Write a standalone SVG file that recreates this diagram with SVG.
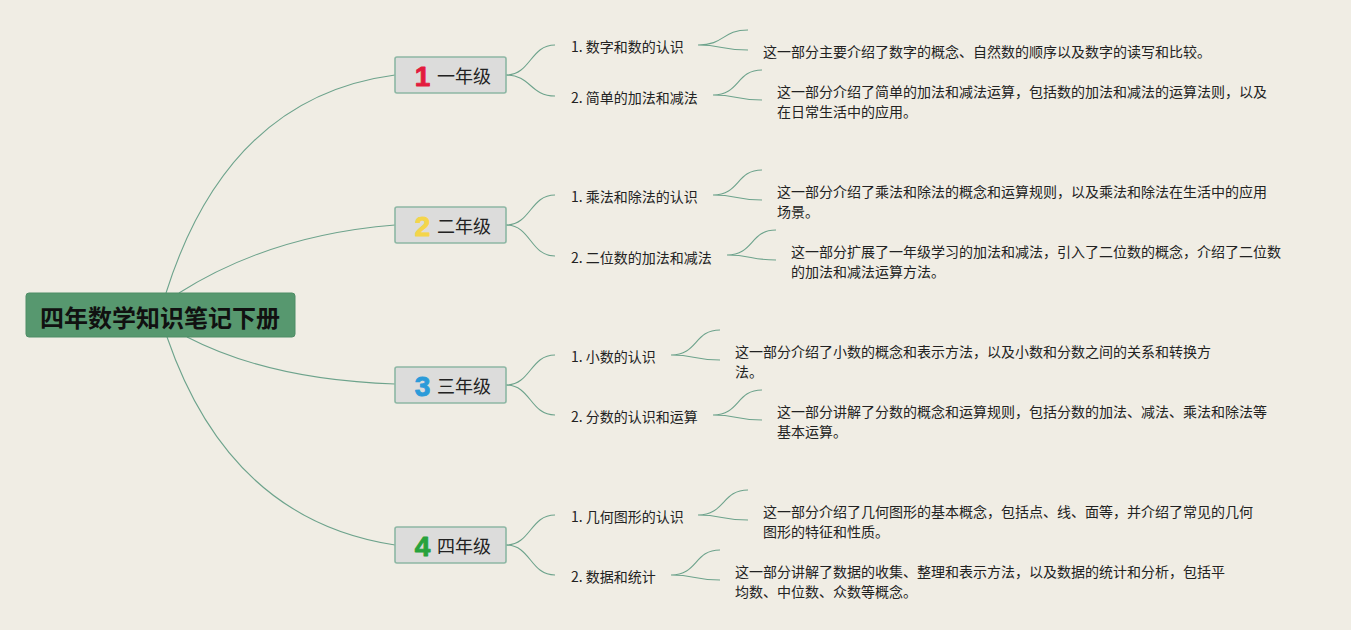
<svg xmlns="http://www.w3.org/2000/svg" width="1351" height="630" viewBox="0 0 1351 630">
<style>
.bg{fill:#f0ede4}
.ln{fill:none;stroke:#6da38c;stroke-width:1.1}
.root{fill:#57986f;stroke:#4f8d66;stroke-width:1}
.rt{font-family:"Noto Sans CJK SC","Noto Sans",sans-serif;font-size:24px;font-weight:bold;fill:#111}
.gb{fill:#dcdcdb;stroke:#8db7a4;stroke-width:1.6}
.num{font-family:"Liberation Sans",Arial,sans-serif;font-size:28px;font-weight:bold;stroke-width:0.9;stroke-linejoin:round}
.gt{font-family:"Noto Sans CJK SC","Noto Sans",sans-serif;font-size:18px;fill:#222}
.st{font-family:"Noto Sans CJK SC","Noto Sans",sans-serif;font-size:14px;fill:#222}
.dt{font-family:"Noto Sans CJK SC","Noto Sans",sans-serif;font-size:14px;fill:#222}
</style>
<rect class="bg" x="0" y="0" width="1351" height="630"/>
<g id="connectors">
<path class="ln" d="M166,293 Q228,97 395,75"/>
<path class="ln" d="M179,293 Q270,235 395,225"/>
<path class="ln" d="M187,337 Q270,380 395,384"/>
<path class="ln" d="M167,337 Q230,520 395,545"/>
<path class="ln" d="M506,75 C531,75 530,45 555,45"/>
<path class="ln" d="M506,75 C531,75 530,96 555,96"/>
<path class="ln" d="M506,225 C531,225 530,195 555,195"/>
<path class="ln" d="M506,225 C531,225 530,256 555,256"/>
<path class="ln" d="M506,385 C531,385 530,355 555,355"/>
<path class="ln" d="M506,385 C531,385 530,415 555,415"/>
<path class="ln" d="M506,545 C531,545 530,515 555,515"/>
<path class="ln" d="M506,545 C531,545 530,575 555,575"/>
<path class="ln" d="M698,45 C725,45 722,30 748,30 M698,45 C722,45 722,50 748,50"/>
<path class="ln" d="M713,95 C740,95 736,70 762,70 M713,95 C737,95 737,100 762,100"/>
<path class="ln" d="M713,195 C740,195 736,170 762,170 M713,195 C737,195 737,200 762,200"/>
<path class="ln" d="M727,255 C754,255 750,230 776,230 M727,255 C751,255 751,260 776,260"/>
<path class="ln" d="M671,355 C698,355 694,330 720,330 M671,355 C695,355 695,360 720,360"/>
<path class="ln" d="M713,415 C740,415 736,390 762,390 M713,415 C737,415 737,420 762,420"/>
<path class="ln" d="M698,515 C725,515 722,490 748,490 M698,515 C722,515 722,520 748,520"/>
<path class="ln" d="M671,575 C698,575 694,550 720,550 M671,575 C695,575 695,580 720,580"/>
</g>
<g id="root">
<rect class="root" x="26" y="293" width="269" height="44" rx="3"/>
<text class="rt" x="160" y="316" text-anchor="middle" dominant-baseline="central">四年数学知识笔记下册</text>
</g>
<g id="grade1">
<rect class="gb" x="395" y="57" width="111" height="36" rx="2"/>
<text class="num" x="422.5" y="85.5" text-anchor="middle" fill="#e31c3d" stroke="#e31c3d">1</text>
<text class="gt" x="437" y="75" dominant-baseline="central">一年级</text>
</g>
<g id="grade2">
<rect class="gb" x="395" y="207" width="111" height="36" rx="2"/>
<text class="num" x="422.5" y="235.5" text-anchor="middle" fill="#f4d54a" stroke="#f4d54a">2</text>
<text class="gt" x="437" y="225" dominant-baseline="central">二年级</text>
</g>
<g id="grade3">
<rect class="gb" x="395" y="367" width="111" height="36" rx="2"/>
<text class="num" x="422.5" y="395.5" text-anchor="middle" fill="#2b9bd9" stroke="#2b9bd9">3</text>
<text class="gt" x="437" y="385" dominant-baseline="central">三年级</text>
</g>
<g id="grade4">
<rect class="gb" x="395" y="527" width="111" height="36" rx="2"/>
<text class="num" x="422.5" y="555.5" text-anchor="middle" fill="#27a23c" stroke="#27a23c">4</text>
<text class="gt" x="437" y="545" dominant-baseline="central">四年级</text>
</g>
<g id="g1s1"><text class="st" x="571" y="46" dominant-baseline="central">1. 数字和数的认识</text></g>
<g id="g1s2"><text class="st" x="571" y="97" dominant-baseline="central">2. 简单的加法和减法</text></g>
<g id="g2s1"><text class="st" x="571" y="196" dominant-baseline="central">1. 乘法和除法的认识</text></g>
<g id="g2s2"><text class="st" x="571" y="257" dominant-baseline="central">2. 二位数的加法和减法</text></g>
<g id="g3s1"><text class="st" x="571" y="356" dominant-baseline="central">1. 小数的认识</text></g>
<g id="g3s2"><text class="st" x="571" y="416" dominant-baseline="central">2. 分数的认识和运算</text></g>
<g id="g4s1"><text class="st" x="571" y="516" dominant-baseline="central">1. 几何图形的认识</text></g>
<g id="g4s2"><text class="st" x="571" y="576" dominant-baseline="central">2. 数据和统计</text></g>
<g id="g1d1"><text class="dt" x="763" y="51" dominant-baseline="central">这一部分主要介绍了数字的概念、自然数的顺序以及数字的读写和比较。</text></g>
<g id="g1d2"><text class="dt" x="777" y="91" dominant-baseline="central">这一部分介绍了简单的加法和减法运算，包括数的加法和减法的运算法则，以及</text><text class="dt" x="777" y="111" dominant-baseline="central">在日常生活中的应用。</text></g>
<g id="g2d1"><text class="dt" x="777" y="191" dominant-baseline="central">这一部分介绍了乘法和除法的概念和运算规则，以及乘法和除法在生活中的应用</text><text class="dt" x="777" y="211" dominant-baseline="central">场景。</text></g>
<g id="g2d2"><text class="dt" x="791" y="251" dominant-baseline="central">这一部分扩展了一年级学习的加法和减法，引入了二位数的概念，介绍了二位数</text><text class="dt" x="791" y="271" dominant-baseline="central">的加法和减法运算方法。</text></g>
<g id="g3d1"><text class="dt" x="735" y="351" dominant-baseline="central">这一部分介绍了小数的概念和表示方法，以及小数和分数之间的关系和转换方</text><text class="dt" x="735" y="371" dominant-baseline="central">法。</text></g>
<g id="g3d2"><text class="dt" x="777" y="411" dominant-baseline="central">这一部分讲解了分数的概念和运算规则，包括分数的加法、减法、乘法和除法等</text><text class="dt" x="777" y="431" dominant-baseline="central">基本运算。</text></g>
<g id="g4d1"><text class="dt" x="763" y="511" dominant-baseline="central">这一部分介绍了几何图形的基本概念，包括点、线、面等，并介绍了常见的几何</text><text class="dt" x="763" y="531" dominant-baseline="central">图形的特征和性质。</text></g>
<g id="g4d2"><text class="dt" x="735" y="571" dominant-baseline="central">这一部分讲解了数据的收集、整理和表示方法，以及数据的统计和分析，包括平</text><text class="dt" x="735" y="591" dominant-baseline="central">均数、中位数、众数等概念。</text></g>
</svg>
